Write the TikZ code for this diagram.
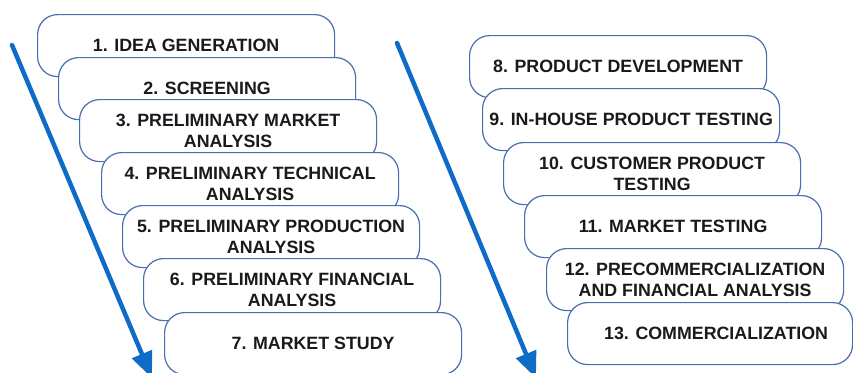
\documentclass[tikz,border=0pt]{standalone}
\usepackage{fontspec}
\setmainfont{Liberation Sans}
\usetikzlibrary{arrows.meta}
\definecolor{boxline}{HTML}{4A6FB0}
\definecolor{arrowblue}{HTML}{0E6CC6}
\definecolor{txt}{HTML}{1A1A1A}
\tikzset{
  stage/.style={draw=boxline, line width=1.2pt, fill=white, rounded corners=20pt,
    minimum width=297pt, minimum height=62pt, anchor=north west, inner sep=0pt,
    align=center, text=txt, font=\fontsize{17.8}{21}\selectfont\bfseries},
  flow/.style={draw=arrowblue, line width=4.5pt, line cap=round,
    -{Triangle[length=26pt,width=21pt]}}
}
\begin{document}
\begin{tikzpicture}[x=1pt,y=-1pt]
\useasboundingbox (0,0) rectangle (853,372);
% arrows
\coordinate (a1s) at (12,45);
\coordinate (a1e) at (152,378);
\coordinate (a2s) at (397,43);
\coordinate (a2e) at (536,378);
\draw[flow] (a1s) -- (a1e);
\draw[flow] (a2s) -- (a2e);
% left column
\node[stage] (s1) at (37,14) {1. IDEA GENERATION};
\node[stage] (s2) at (58,57) {2. SCREENING};
\node[stage] (s3) at (79,99) {3. PRELIMINARY MARKET\\ANALYSIS};
\node[stage] (s4) at (101,152) {4. PRELIMINARY TECHNICAL\\ANALYSIS};
\node[stage] (s5) at (122,205) {5. PRELIMINARY PRODUCTION\\ANALYSIS};
\node[stage] (s6) at (143,258) {6. PRELIMINARY FINANCIAL\\ANALYSIS};
\node[stage] (s7) at (164,312) {7. MARKET STUDY};
% right column
\node[stage] (s8) at (469,35) {8. PRODUCT DEVELOPMENT};
\node[stage] (s9) at (482,88) {9. IN-HOUSE PRODUCT TESTING};
\node[stage] (s10) at (503,142) {10. CUSTOMER PRODUCT\\TESTING};
\node[stage] (s11) at (524,195) {11. MARKET TESTING};
\node[stage] (s12) at (546,248) {12. PRECOMMERCIALIZATION\\AND FINANCIAL ANALYSIS};
\node[stage, minimum width=285pt] (s13) at (567,302) {\hspace*{12pt}13. COMMERCIALIZATION};
\end{tikzpicture}
\end{document}
